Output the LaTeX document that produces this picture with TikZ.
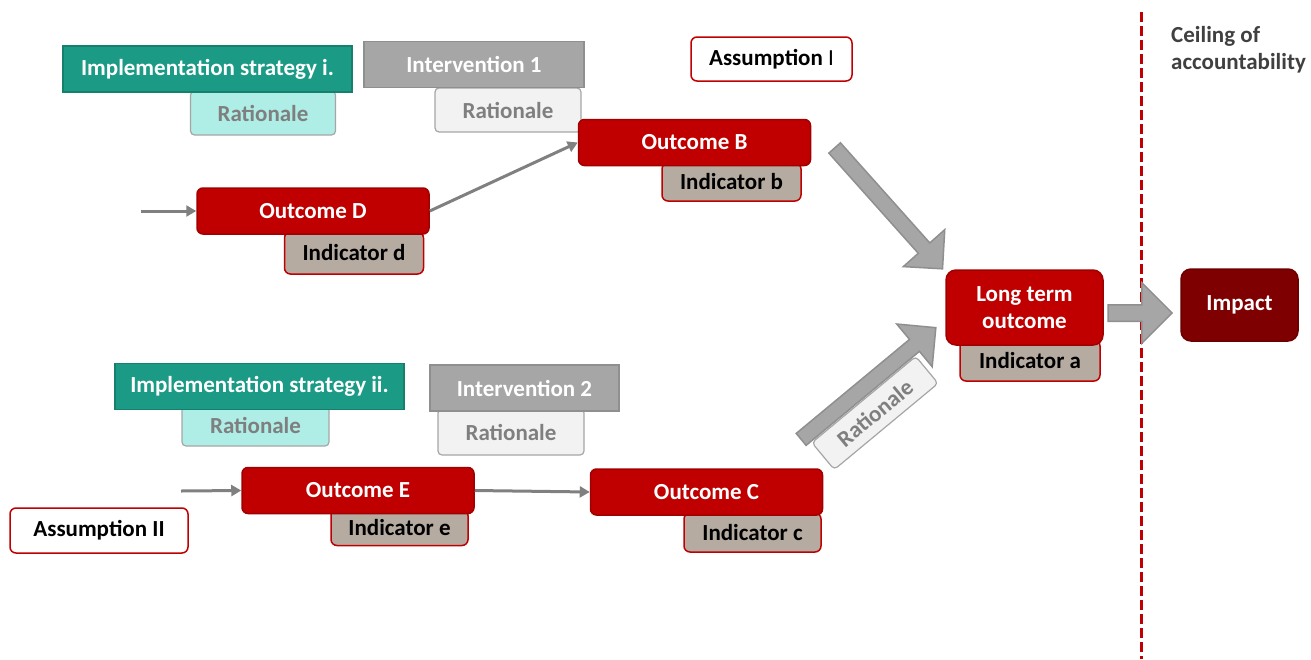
\documentclass[tikz,border=0pt]{standalone}
\usepackage{fontspec}
\setmainfont{Carlito}
\usepackage{tikz}
\usetikzlibrary{positioning,arrows.meta,shapes.arrows}
\definecolor{outred}{HTML}{C00000}
\definecolor{outedge}{HTML}{A00000}
\definecolor{impred}{HTML}{7F0000}
\definecolor{tealdark}{HTML}{1B9A85}
\definecolor{tealedge}{HTML}{16806E}
\definecolor{teallight}{HTML}{AEEEE6}
\definecolor{intgray}{HTML}{A6A6A6}
\definecolor{intedge}{HTML}{8F8F8F}
\definecolor{ratfill}{HTML}{F2F2F2}
\definecolor{indfill}{HTML}{B5ABA1}
\definecolor{rattext}{HTML}{7F7F7F}
\definecolor{linegray}{HTML}{808080}
\definecolor{ceiltext}{HTML}{404040}

\begin{document}
\begin{tikzpicture}[x=1pt,y=-1pt,
  every node/.style={font=\fontsize{23}{27}\selectfont\bfseries,inner sep=0pt},
  outcome/.style={fill=outred,draw=outedge,line width=1.5pt,rounded corners=6pt,text=white,minimum width=232pt,minimum height=46pt},
  indic/.style={fill=indfill,draw=outred,line width=1.5pt,rounded corners=6pt,text=black,minimum width=139pt},
  impl/.style={fill=tealdark,draw=tealedge,line width=1.2pt,text=white,minimum width=289pt,minimum height=46pt},
  interv/.style={fill=intgray,draw=intedge,line width=1.2pt,text=white,minimum height=46pt},
  ratteal/.style={fill=teallight,draw=intgray,line width=1.2pt,rounded corners=4pt,text=rattext,minimum width=145pt,minimum height=44pt},
  ratgray/.style={fill=ratfill,draw=intgray,line width=1.2pt,rounded corners=4pt,text=rattext,minimum width=146pt,minimum height=44pt},
  assume/.style={fill=white,draw=outred,line width=1.5pt,rounded corners=6pt,text=black,minimum height=44pt},
  conn/.style={draw=linegray,line width=3pt,-{Triangle[length=10pt,width=11pt]}},
  fatarrow/.style={single arrow,draw=intedge,fill=intgray,line width=1.5pt,inner xsep=0pt,inner ysep=7pt,single arrow head extend=20pt,single arrow tip angle=90},
  ceiling/.style={draw=outred,line width=3pt,dash pattern=on 10pt off 4pt}]
\useasboundingbox (0,0) rectangle (1311,659);

\node[ratteal] (ri1) at (263,113) {Rationale};
\node[ratgray] (rn1) at (508,110) {Rationale};
\node[impl] (im1) at (207.5,69) {Implementation strategy i.};
\node[interv,minimum width=220pt] (iv1) at (474,64.5) {Intervention 1};
\node[assume,minimum width=161pt] (as1) at (771.5,59) {Assumption {\mdseries I}};

\node[indic,minimum height=38pt] (ib) at (731.5,182) {Indicator b};
\node[outcome] (ob) at (694.5,142.5) {Outcome B};
\node[indic,minimum height=42pt] (id) at (354,253) {Indicator d};
\node[outcome] (od) at (313,211) {Outcome D};

\node[ratteal,minimum width=147pt,minimum height=42pt] (ri2) at (255.5,425) {Rationale};
\node[ratgray,minimum height=46pt] (rn2) at (511,432) {Rationale};
\node[impl] (im2) at (259.5,386.5) {Implementation strategy ii.};
\node[interv,minimum width=189pt] (iv2) at (524.5,388) {Intervention 2};

\node[indic,minimum width=137pt,minimum height=36pt] (ie) at (399.5,527.5) {Indicator e};
\node[outcome] (oe) at (358,490.5) {Outcome E};
\node[indic,minimum width=137pt,minimum height=39pt] (ic) at (752.5,532.5) {Indicator c};
\node[outcome] (oc) at (706.5,492) {Outcome C};
\node[assume,minimum width=178pt,minimum height=45pt] (as2) at (99,530.5) {Assumption II};

\node[indic,minimum width=140pt,minimum height=41pt] (ia) at (1030,360.5) {Indicator a};
\node[outcome,align=center,rounded corners=10pt,minimum width=157pt,minimum height=75pt] (lt) at (1024.5,307.5) {Long term\\outcome};
\node[fill=impred,draw=impred!85!black,line width=1.5pt,rounded corners=10pt,text=white,minimum width=117pt,minimum height=72pt] (imp) at (1239.5,305) {Impact};

\coordinate (ctop) at (1141,12);
\coordinate (cbot) at (1141,659);
\draw[ceiling] (ctop) -- (cbot);
\node[anchor=north west,align=left,text=ceiltext] (ceil) at (1171,26) {Ceiling of\\accountability};

\coordinate (inD) at (141,211);
\coordinate (inE) at (181,491);
\draw[conn] (inD) -- (od.west);
\draw[conn] (od.east) -- (ob.west);
\draw[conn] (inE) -- (oe.west);
\draw[conn] (oe.east) -- (oc.west);

\coordinate (a1s) at (832,145);
\coordinate (a1t) at (940,266);
\path (a1s) -- node[fatarrow,sloped,minimum height=162pt] (fa1) {} (a1t);
\coordinate (a2s) at (1104,313);
\coordinate (a2t) at (1168,313);
\path (a2s) -- node[fatarrow,sloped,inner ysep=7.5pt,single arrow head extend=22pt,minimum height=64pt] (fa2) {} (a2t);
\node[ratgray,rotate=39.7,minimum width=135pt,minimum height=35pt] (rc) at (875,413) {Rationale};
\coordinate (a3s) at (798,442);
\coordinate (a3t) at (933,330);
\path (a3s) -- node[fatarrow,sloped,minimum height=175pt] (fa3) {} (a3t);
\end{tikzpicture}
\end{document}
